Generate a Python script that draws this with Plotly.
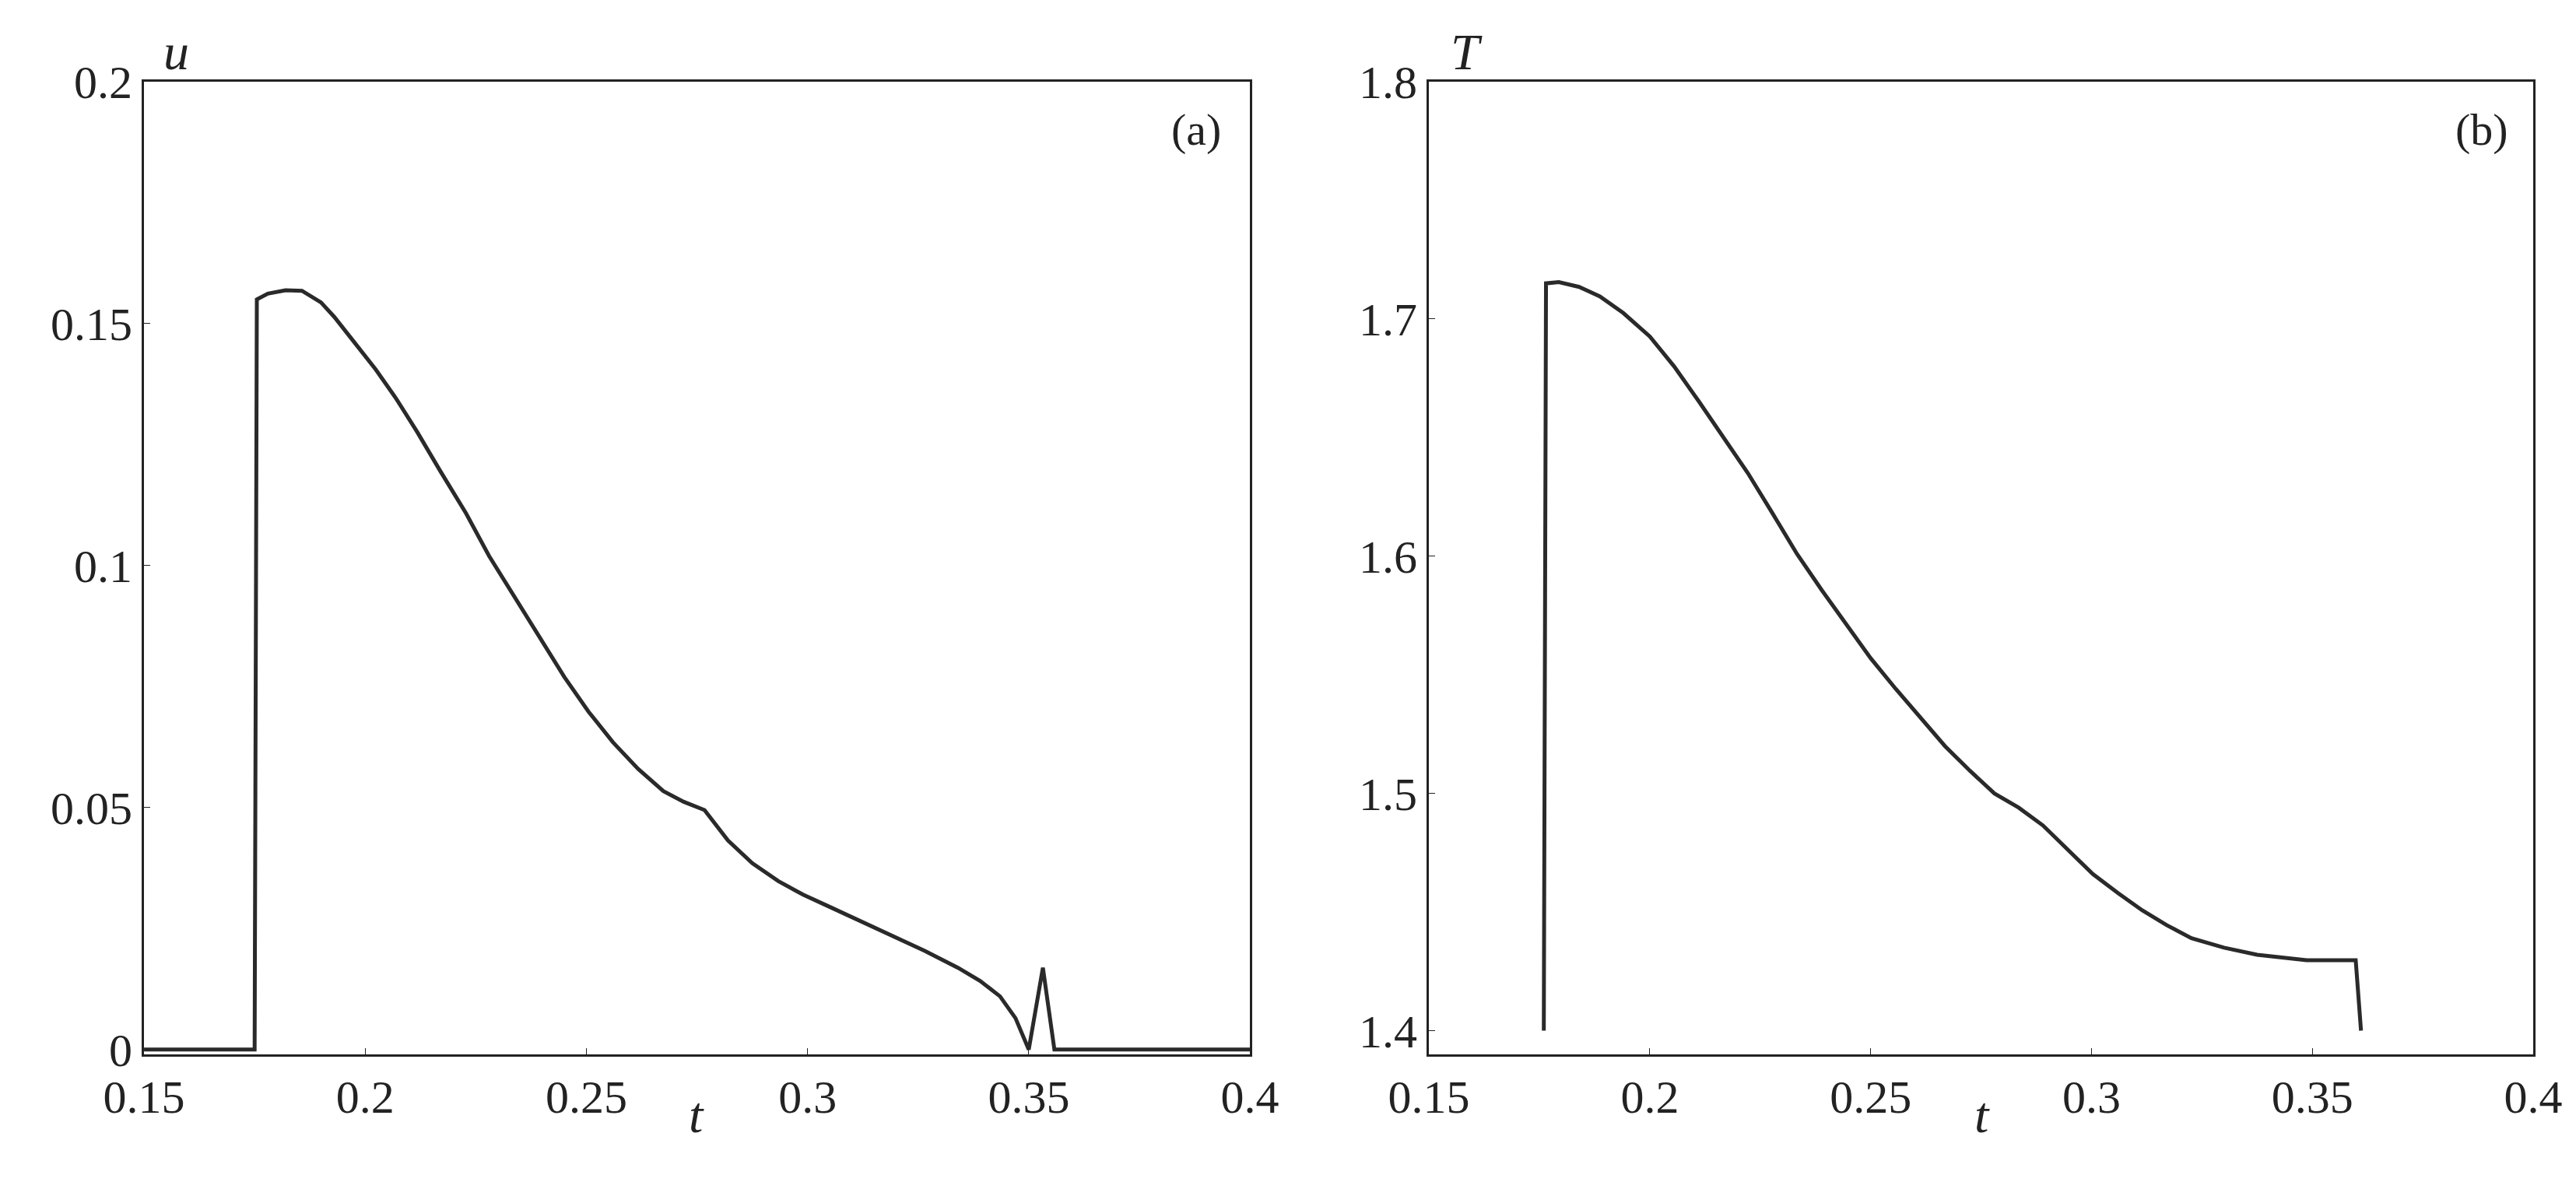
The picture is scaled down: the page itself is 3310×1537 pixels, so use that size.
import plotly.graph_objects as go

# panel (a): velocity u(t)
t_a = [0.15, 0.175, 0.1755, 0.178, 0.182, 0.1857, 0.19, 0.193, 0.1975, 0.2024, 0.207, 0.2117,
       0.217, 0.2228, 0.228, 0.234, 0.2395, 0.245, 0.2505, 0.256, 0.2617, 0.2674, 0.272, 0.2767,
       0.282, 0.2875, 0.2934, 0.299, 0.3045, 0.312, 0.319, 0.3265, 0.334, 0.339, 0.3435, 0.347,
       0.35, 0.3532, 0.3558, 0.4]
u_a = [0.0, 0.0, 0.155, 0.1562, 0.1569, 0.1568, 0.1544, 0.1514, 0.1462, 0.1405, 0.1345, 0.1277,
       0.1195, 0.1108, 0.102, 0.0932, 0.085, 0.077, 0.0698, 0.0635, 0.058, 0.0534, 0.0512, 0.0495,
       0.0432, 0.0385, 0.0348, 0.032, 0.0297, 0.0266, 0.0236, 0.0204, 0.0169, 0.0142, 0.011, 0.0065,
       0.0, 0.0169, 0.0, 0.0]

# panel (b): temperature T(t)
t_b = [0.176, 0.1765, 0.1794, 0.184, 0.1887, 0.194, 0.2, 0.2055, 0.211, 0.2165, 0.2222, 0.2278,
       0.2333, 0.239, 0.2445, 0.25, 0.2557, 0.2612, 0.2668, 0.2725, 0.278, 0.2835, 0.289, 0.2945,
       0.3003, 0.306, 0.3115, 0.317, 0.3226, 0.33, 0.3375, 0.3487, 0.3598, 0.361]
T_b = [1.4, 1.715, 1.7155, 1.7135, 1.7095, 1.7025, 1.6926, 1.68, 1.6655, 1.6505, 1.635, 1.618,
       1.601, 1.5855, 1.571, 1.557, 1.544, 1.532, 1.520, 1.5095, 1.500, 1.494, 1.4865, 1.4765,
       1.466, 1.458, 1.4507, 1.4445, 1.439, 1.435, 1.432, 1.4297, 1.4297, 1.4]

font = "Liberation Serif"
line = dict(color="#2a2a2a", width=5)

fig = go.Figure()
fig.add_trace(go.Scatter(x=t_a, y=u_a, mode="lines", line=line, xaxis="x", yaxis="y"))
fig.add_trace(go.Scatter(x=t_b, y=T_b, mode="lines", line=line, xaxis="x2", yaxis="y2"))

ax = dict(showgrid=False, zeroline=False, showline=True, linecolor="#222", linewidth=3,
          mirror=True, ticks="inside", ticklen=8, tickcolor="#222", automargin=False,
          tickfont=dict(family=font, size=60, color="#222"))
xt = dict(range=[0.15, 0.4], tickvals=[0.15, 0.2, 0.25, 0.3, 0.35, 0.4],
          ticktext=["0.15", "0.2", "0.25", "0.3", "0.35", "0.4"])

fig.update_layout(
    width=3310, height=1537, paper_bgcolor="white", plot_bgcolor="white",
    showlegend=False, margin=dict(l=0, r=0, t=0, b=0),
    xaxis=dict(ax, domain=[0.0535, 0.4828], anchor="y", **xt),
    yaxis=dict(ax, domain=[0.1236, 0.9369], anchor="x", range=[-0.001, 0.2],
               tickvals=[0, 0.05, 0.1, 0.15, 0.2], ticktext=["0", "0.05", "0.1", "0.15", "0.2"]),
    xaxis2=dict(ax, domain=[0.5523, 0.981], anchor="y2", **xt),
    yaxis2=dict(ax, domain=[0.1236, 0.9369], anchor="x2", range=[1.39, 1.8],
                tickvals=[1.4, 1.5, 1.6, 1.7, 1.8], ticktext=["1.4", "1.5", "1.6", "1.7", "1.8"]),
)

ann = [
    ("<i>u</i>", 0.066, 0.962), ("<i>T</i>", 0.567, 0.962),
    ("<i>t</i>", 0.268, 0.073), ("<i>t</i>", 0.767, 0.073),
    ("(a)", 0.462, 0.897), ("(b)", 0.961, 0.897),
]
for txt, x, y in ann:
    fig.add_annotation(text=txt, x=x, y=y, xref="paper", yref="paper", showarrow=False,
                       xanchor="center", yanchor="middle",
                       font=dict(family=font, size=66 if "<i>" in txt else 58, color="#222"))

fig.write_html("out.html")
